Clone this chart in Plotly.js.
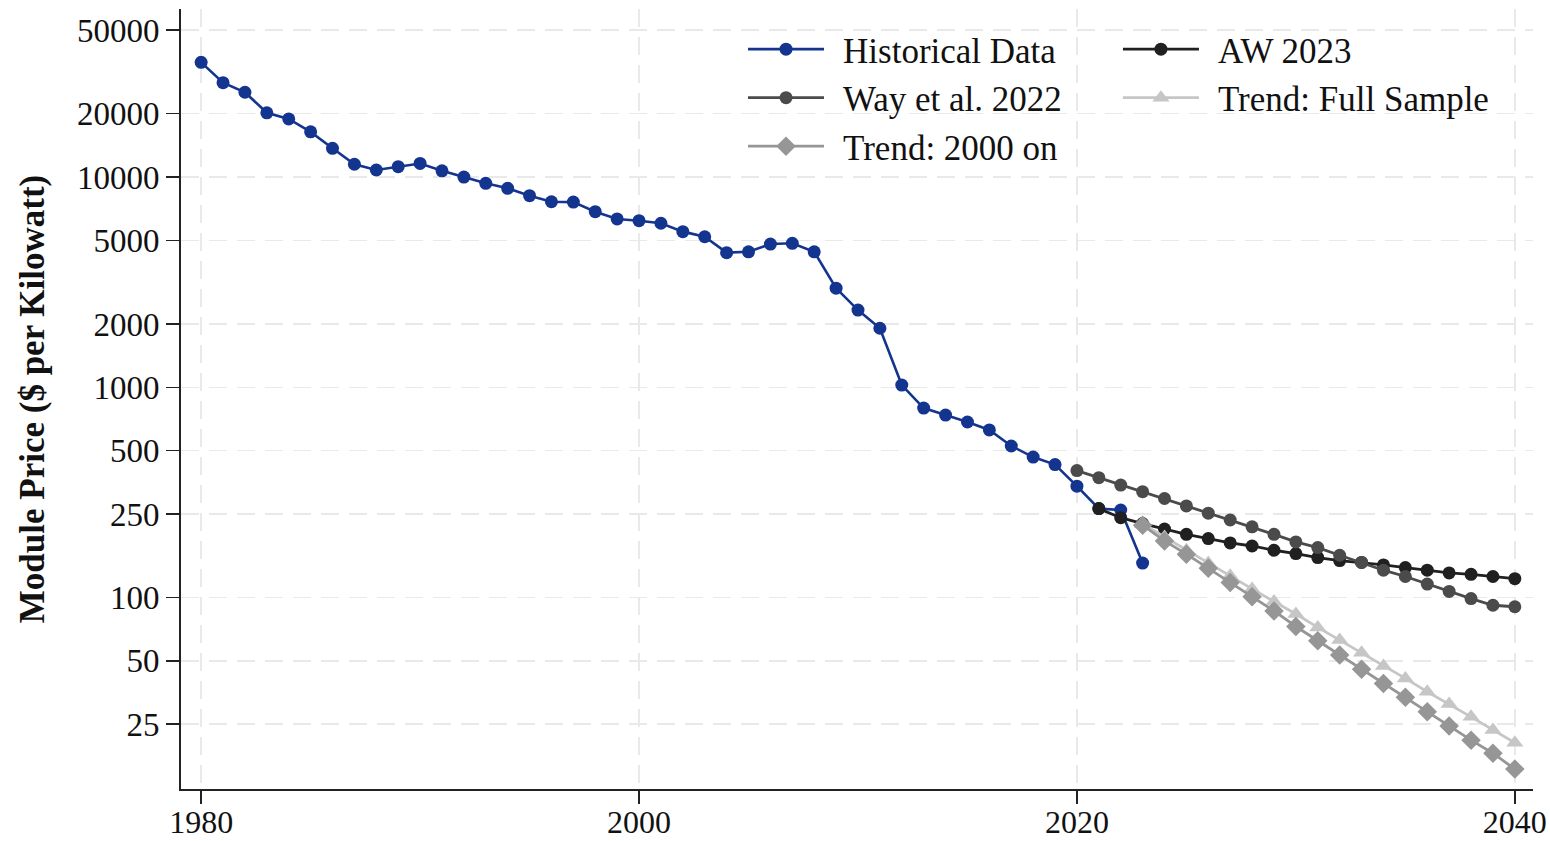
<!DOCTYPE html>
<html>
<head>
<meta charset="utf-8">
<script src="https://cdn.plot.ly/plotly-3.0.1.min.js"></script>
<style>
  html, body { margin: 0; padding: 0; background: #ffffff; }
  #chart { width: 1550px; height: 841px; }
</style>
</head>
<body>
<div id="chart"></div>
<script>
// ---- Data ----
const histYears = [1980,1981,1982,1983,1984,1985,1986,1987,1988,1989,1990,1991,1992,1993,1994,1995,1996,1997,1998,1999,
                   2000,2001,2002,2003,2004,2005,2006,2007,2008,2009,2010,2011,2012,2013,2014,2015,2016,2017,2018,2019,
                   2020,2021,2022,2023];
const histPrice = [35100,28100,25300,20200,18900,16400,13700,11500,10800,11200,11600,10700,10000,9330,8840,8150,7630,7600,6840,6320,
                   6200,6030,5500,5200,4370,4410,4800,4840,4410,2960,2330,1910,1025,797,738,684,627,526,466,429,
                   339,265,261,146];

const awYears  = [2021,2022,2023,2024,2025,2026,2027,2028,2029,2030,2031,2032,2033,2034,2035,2036,2037,2038,2039,2040];
const awPrice  = [265,240,225,212,200,191,182,176,168,162,155,150,147,143,139,135,131,129,126,123];

const wayYears = [2020,2021,2022,2023,2024,2025,2026,2027,2028,2029,2030,2031,2032,2033,2034,2035,2036,2037,2038,2039,2040];
const wayPrice = [402,372,343,319,296,273,252,234,217,200,184,173,159,147,135,126,116,107,99,92,90.5];

const trendYears = [2023,2024,2025,2026,2027,2028,2029,2030,2031,2032,2033,2034,2035,2036,2037,2038,2039,2040];
const fullPrice  = [224,194,168,146,127,110,95.8,83.6,72.2,62.9,54.7,47.3,41.3,35.7,31.2,27.1,23.5,20.4];
const t2000Price = [221,186,161,138,118,101,86.4,72.9,62.4,53.4,45.6,39.1,33.6,28.7,24.5,21.0,18.2,15.3];

const yTickVals = [25,50,100,250,500,1000,2000,5000,10000,20000,50000];
const yTickText = ['25','50','100','250','500','1000','2000','5000','10000','20000','50000'];
const xTickVals = [1980,2000,2020,2040];
const xTickText = ['1980','2000','2020','2040'];

const seriesNames = ['Historical Data','AW 2023','Way et al. 2022','Trend: Full Sample','Trend: 2000 on'];

// ---- Styling ----
const FONT = '"Liberation Serif", "Times New Roman", serif';
const BLUE = '#14358f';
const AWC  = '#202020';
const WAYC = '#4b4b4b';
const FULLC = '#c6c6c6';
const T2000C = '#969696';
const GAP = '\u2009\u2009'; // small gap between legend symbol and label

const traces = [
  { x: histYears, y: histPrice, name: GAP + seriesNames[0], type: 'scatter', mode: 'lines+markers',
    line: { color: BLUE, width: 2.6 }, marker: { color: BLUE, size: 13, symbol: 'circle' }, legend: 'legend' },
  { x: awYears, y: awPrice, name: GAP + seriesNames[1], type: 'scatter', mode: 'lines+markers',
    line: { color: AWC, width: 2.8 }, marker: { color: AWC, size: 13, symbol: 'circle' }, legend: 'legend2' },
  { x: wayYears, y: wayPrice, name: GAP + seriesNames[2], type: 'scatter', mode: 'lines+markers',
    line: { color: WAYC, width: 2.8 }, marker: { color: WAYC, size: 13, symbol: 'circle' }, legend: 'legend' },
  { x: trendYears, y: fullPrice, name: GAP + seriesNames[3], type: 'scatter', mode: 'lines+markers',
    line: { color: FULLC, width: 2.8 }, marker: { color: FULLC, size: 15, symbol: 'triangle-up' }, legend: 'legend2' },
  { x: trendYears, y: t2000Price, name: GAP + seriesNames[4], type: 'scatter', mode: 'lines+markers',
    line: { color: T2000C, width: 2.8 }, marker: { color: T2000C, size: 15, symbol: 'diamond' }, legend: 'legend' }
];

const gridStyle = { showgrid: true, gridcolor: '#e9e9e9', gridwidth: 1.5, griddash: '18px,10px' };

const legendFont = { family: FONT, size: 35, color: '#111111' };

const layout = {
  width: 1550, height: 841,
  paper_bgcolor: '#ffffff', plot_bgcolor: '#ffffff',
  margin: { l: 181, r: 17, t: 9, b: 52, autoexpand: false },
  font: { family: FONT, color: '#111111', size: 33 },
  showlegend: true,
  xaxis: Object.assign({
    type: 'linear', range: [1979.08, 2040.83],
    tickmode: 'array', tickvals: xTickVals, ticktext: xTickText,
    ticks: 'outside', ticklen: 13, tickwidth: 1.5, tickcolor: '#222222',
    ticklabelstandoff: -10,
    showline: true, linecolor: '#222222', linewidth: 2.2, mirror: false,
    zeroline: false, tickfont: { family: FONT, size: 32, color: '#111111' },
    fixedrange: true
  }, gridStyle),
  yaxis: Object.assign({
    type: 'log', range: [1.090, 4.799],
    tickmode: 'array', tickvals: yTickVals, ticktext: yTickText,
    ticks: 'outside', ticklen: 13, tickwidth: 1.5, tickcolor: '#222222',
    showline: true, linecolor: '#222222', linewidth: 2, mirror: false,
    zeroline: false, tickfont: { family: FONT, size: 33, color: '#111111' },
    title: { text: '<b>Module Price ($ per Kilowatt)</b>', font: { family: FONT, size: 35, color: '#111111' }, standoff: 22 },
    fixedrange: true
  }, gridStyle),
  legend: {
    x: 0.4157, y: 0.986, xanchor: 'left', yanchor: 'top',
    orientation: 'v', bgcolor: 'rgba(0,0,0,0)', borderwidth: 0,
    font: legendFont, itemwidth: 76, tracegroupgap: 0, traceorder: 'normal'
  },
  legend2: {
    x: 0.6930, y: 0.986, xanchor: 'left', yanchor: 'top',
    orientation: 'v', bgcolor: 'rgba(0,0,0,0)', borderwidth: 0,
    font: legendFont, itemwidth: 76, tracegroupgap: 0, traceorder: 'normal'
  }
};

Plotly.newPlot('chart', traces, layout, { displayModeBar: false, staticPlot: true });
</script>
</body>
</html>
